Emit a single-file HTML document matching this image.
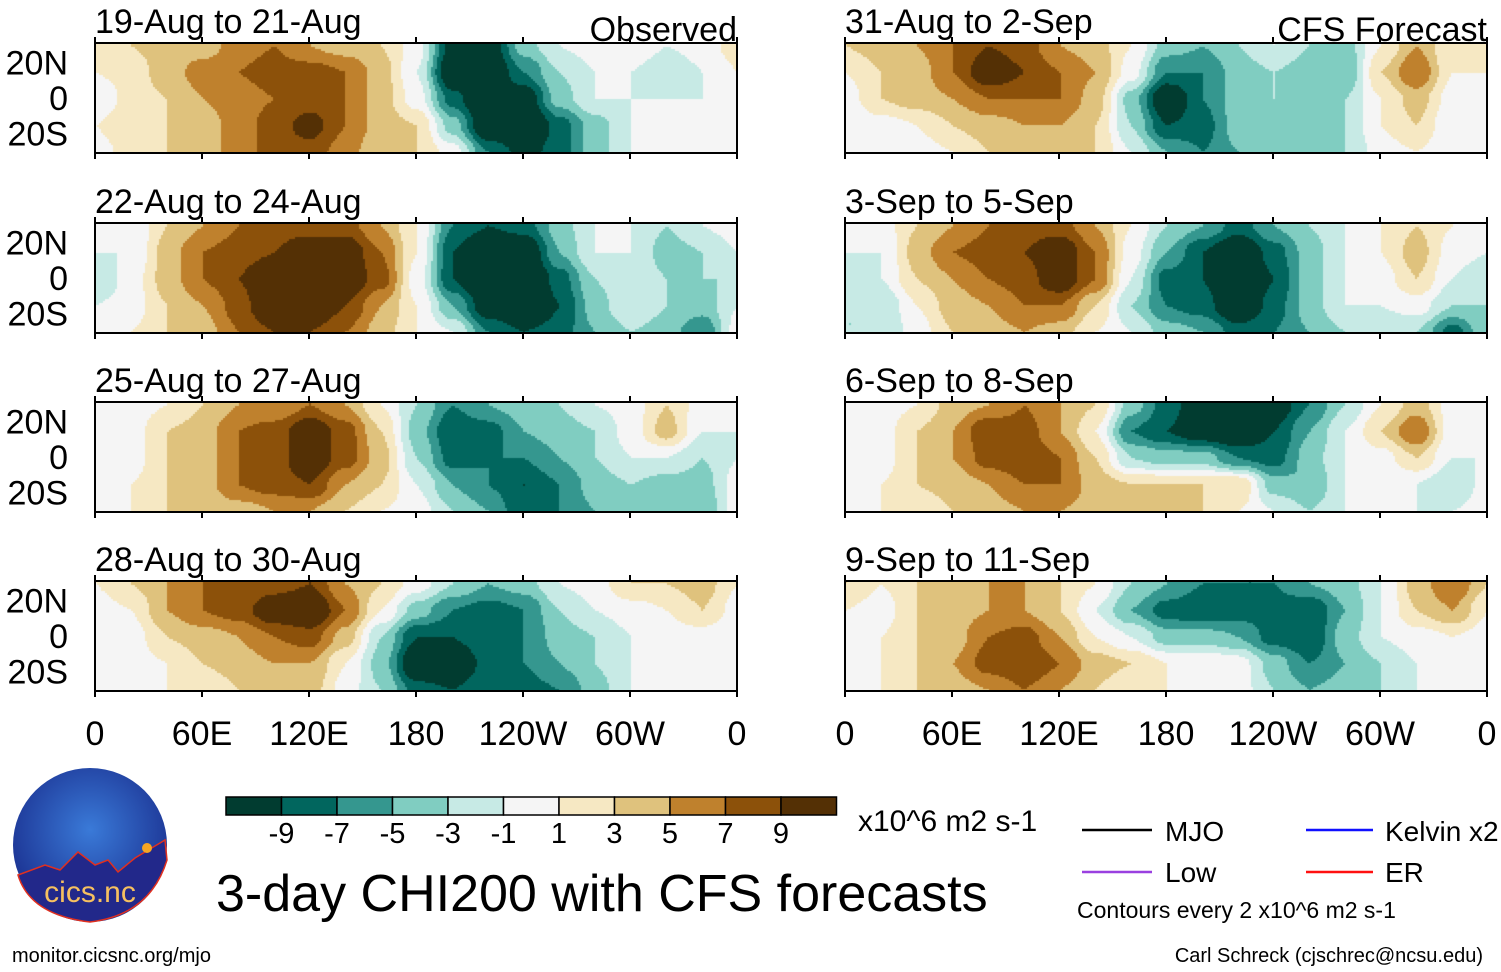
<!DOCTYPE html>
<html><head><meta charset="utf-8">
<style>
body{margin:0;background:#fff;width:1501px;height:972px;overflow:hidden;position:relative;font-family:"Liberation Sans",sans-serif;color:#000}
canvas{position:absolute}
</style></head><body>
<div id="root"></div>
<svg id="ov" width="1501" height="972" style="position:absolute;left:0;top:0"></svg>
<script>
const panelTitles=["19-Aug to 21-Aug","22-Aug to 24-Aug","25-Aug to 27-Aug","28-Aug to 30-Aug","31-Aug to 2-Sep","3-Sep to 5-Sep","6-Sep to 8-Sep","9-Sep to 11-Sep"];
const lonCols=[0,20,40,60,80,100,120,140,160,180,200,220,240,260,280,300,320,340];
const latRows=[30,15,0,-15,-30];
const p1=[[2,3,4,4,6,7,5,4,3,0,-10,-11,-4,-1,0,1,-1,0],[1,2,4,6,7,8,8,7,4,-1,-12,-12,-7,-3,-1,-1,-3,-1],[-1,2,3,5,6,7,8,7,4,0,-8,-13,-11,-4,-1,-1,-1,-1],[1,3,3,4,6,8,10,7,4,3,-4,-12,-13,-8,-4,-1,0,0],[0,2,3,4,6,8,8,6,3,3,0,-7,-10,-8,-4,-1,0,0]];
const p2=[[0,-1,3,5,7,8,8,8,5,1,-7,-9,-8,-4,-1,-1,-3,-1],[-1,-1,4,7,8,9,11,11,7,1,-9,-13,-12,-5,-1,-1,-4,-3],[-3,0,4,7,9,12,13,11,8,0,-9,-13,-13,-8,-3,-1,-3,-3],[-1,0,3,5,8,12,12,9,5,1,-5,-11,-13,-9,-4,-1,-3,-4],[0,1,3,4,7,9,9,7,4,1,-1,-7,-9,-8,-5,-3,-4,-7]];
const p3=[[0,0,1,3,5,5,7,5,1,-3,-7,-5,-4,-3,-1,0,3,0],[-1,0,3,4,7,8,11,8,3,-4,-9,-8,-5,-4,-3,0,4,-1],[-1,0,3,4,7,8,11,8,4,-3,-8,-7,-7,-5,-3,-1,-1,-3],[0,1,3,4,7,8,9,5,3,-1,-5,-7,-9,-7,-4,-3,-4,-4],[0,1,3,3,4,5,5,3,1,0,-3,-5,-9,-7,-5,-4,-5,-5]];
const p4=[[1,3,5,7,7,8,9,5,3,0,-3,-5,-4,-1,0,3,3,4],[0,1,5,7,8,11,12,7,1,-4,-7,-8,-7,-3,-1,0,1,3],[-1,0,3,4,5,7,8,4,-3,-9,-9,-7,-7,-4,-3,-1,0,0],[0,0,1,3,4,5,5,1,-4,-12,-12,-8,-7,-5,-3,-1,0,0],[0,0,1,1,3,4,4,0,-3,-8,-9,-7,-8,-7,-4,-1,0,0]];
const p5=[[3,4,5,7,9,8,5,4,1,-4,-5,-3,-1,-3,-4,1,5,1],[1,3,4,7,11,9,7,5,0,-7,-7,-4,-3,-4,-5,3,7,1],[0,3,4,5,7,7,7,4,-4,-12,-7,-4,-3,-3,-3,1,4,0],[-1,0,1,3,4,5,5,3,-3,-9,-8,-4,-5,-4,-3,1,3,-1],[-1,-1,0,1,3,4,4,3,-1,-5,-7,-5,-5,-4,-3,0,1,-1]];
const p6=[[0,0,3,5,7,8,8,5,1,-3,-5,-8,-5,-3,-1,1,3,1],[-1,-1,4,7,8,9,11,7,0,-5,-9,-12,-8,-4,-1,1,4,0],[-3,-1,3,5,7,8,11,7,-1,-8,-9,-13,-9,-4,-1,0,3,-1],[-3,-3,1,4,5,7,7,3,-3,-7,-8,-12,-8,-4,-1,-1,0,-3],[-3,-3,0,3,4,5,4,1,-1,-4,-5,-8,-7,-5,-3,-3,-3,-8]];
const p7=[[0,0,1,4,5,7,5,3,-4,-8,-11,-12,-11,-7,-3,1,4,0],[-1,0,3,5,9,8,5,1,-7,-9,-11,-12,-9,-5,-1,3,7,0],[-1,0,3,5,8,9,7,3,-3,-4,-4,-7,-8,-4,-1,0,3,-1],[0,1,3,4,5,7,7,4,3,3,3,3,-4,-5,-1,-1,-1,-3],[0,1,1,3,4,5,5,4,4,3,3,1,-1,-3,-1,-1,-1,-1]];
const p8=[[3,1,3,4,5,5,3,1,-3,-5,-7,-7,-7,-5,-4,-1,4,7],[1,0,3,4,5,5,3,-1,-5,-8,-9,-8,-8,-9,-5,-1,3,5],[0,1,3,4,7,8,5,1,-1,-4,-4,-5,-8,-9,-4,-1,0,1],[0,1,3,5,8,9,7,4,3,1,1,0,-4,-7,-5,-3,-1,0],[0,1,3,4,5,7,5,3,1,1,0,0,-3,-5,-4,-3,-1,0]];
const panelData=[p1,p2,p3,p4,p5,p6,p7,p8];
const colors=["#013c30","#01665e","#35978f","#80cdc1","#c7eae5","#f5f5f5","#f6e8c3","#dfc27d","#bf812d","#8c510a","#543005"];
const cbTicks=["-9","-7","-5","-3","-1","1","3","5","7","9"];
const xTicks=["0","60E","120E","180","120W","60W","0"];
const yTicks=["20N","0","20S"];

const root=document.getElementById('root');
const svg=document.getElementById('ov');
const NS="http://www.w3.org/2000/svg";
const colX=[95,845], rowY=[43,223,402,581], PW=642, PH=110;
const xS=(ox,lon)=>ox+lon/360*PW;
const yS=(oy,lat)=>oy+PH/2-lat/62*PH;
function txt(s,x,y,size,anchor,name){
  const t=document.createElementNS(NS,'text');
  t.setAttribute('x',x);t.setAttribute('y',y);t.setAttribute('font-size',size);
  t.setAttribute('text-anchor',anchor||'start');t.setAttribute('font-family','Liberation Sans, sans-serif');
  t.textContent=s;
  
  
  svg.appendChild(t);return t;
}
function line(x1,y1,x2,y2,c,w,name){
  const l=document.createElementNS(NS,'line');
  l.setAttribute('x1',x1);l.setAttribute('y1',y1);l.setAttribute('x2',x2);l.setAttribute('y2',y2);
  l.setAttribute('stroke',c);l.setAttribute('stroke-width',w);
  
  
  svg.appendChild(l);
}
function val(d,lon,lat){
  const n=lonCols.length;
  let fi=(lon/20)%n; const i0=Math.floor(fi), i1=(i0+1)%n, fx=fi-i0;
  let fj=(30-lat)/15; fj=Math.max(0,Math.min(latRows.length-1.0001,fj));
  const j0=Math.floor(fj), j1=j0+1, fy=fj-j0;
  const sx=fx*fx*(3-2*fx), sy=fy*fy*(3-2*fy);
  const a=d[j0][i0]*(1-sx)+d[j0][i1]*sx, b=d[j1][i0]*(1-sx)+d[j1][i1]*sx;
  return a*(1-sy)+b*sy;
}
function cidx(v){return Math.max(0,Math.min(10,Math.floor((v+11)/2)));}
panelData.forEach((d,k)=>{
  const ox=colX[Math.floor(k/4)], oy=rowY[k%4];
  const cv=document.createElement('canvas');
  cv.width=PW;cv.height=PH;cv.style.left=ox+'px';cv.style.top=oy+'px';
  
  
  root.appendChild(cv);
  const ctx=cv.getContext('2d');
  for(let px=0;px<PW;px+=2)for(let py=0;py<PH;py+=2){
    const lon=px/PW*360, lat=(PH/2-py)/PH*62;
    ctx.fillStyle=colors[cidx(val(d,lon,lat))];ctx.fillRect(px,py,2,2);
  }
  const r=document.createElementNS(NS,'rect');
  r.setAttribute('x',ox);r.setAttribute('y',oy);r.setAttribute('width',PW);r.setAttribute('height',PH);
  r.setAttribute('fill','none');r.setAttribute('stroke','#000');r.setAttribute('stroke-width',2);
  
  
  svg.appendChild(r);
  for(let lo=0;lo<=360;lo+=60){line(xS(ox,lo),oy,xS(ox,lo),oy-6,'#000',2,'x-tick');line(xS(ox,lo),oy+PH,xS(ox,lo),oy+PH+6,'#000',2,'x-tick');}
  txt(panelTitles[k],ox,oy-10,34,'start','panel-title');
  if(k%4===0) txt(k===0?'Observed':'CFS Forecast',ox+PW,oy-2,34,'end','panel-label');
  if(k<4){[20,0,-20].forEach((la,i)=>{txt(yTicks[i],68,yS(oy,la)+12,34,'end','y-tick-label');});}
  if(k%4===3){xTicks.forEach((s,i)=>txt(s,ox+i*PW/6,745,34,'middle','x-tick-label'));}
});
colors.forEach((c,i)=>{
  const r=document.createElementNS(NS,'rect');
  r.setAttribute('x',226+i*55.5);r.setAttribute('y',797);r.setAttribute('width',55.5);r.setAttribute('height',18);
  r.setAttribute('fill',c);r.setAttribute('stroke','#000');r.setAttribute('stroke-width',1.5);
  
  
  svg.appendChild(r);
});
cbTicks.forEach((s,i)=>txt(s,226+(i+1)*55.5,843,29,'middle','colorbar-tick'));
txt('x10^6 m2 s-1',858,831,30,'start','colorbar-units');
txt('3-day CHI200 with CFS forecasts',216,911,52,'start','chart-title');
line(1082,830,1152,830,'#000',2.5,'legend-mjo-line');txt('MJO',1165,841,28,'start','legend-mjo');
line(1306,830,1373,830,'#1010ff',2.5,'legend-kelvin-line');txt('Kelvin x2',1385,841,28,'start','legend-kelvin');
line(1082,872,1152,872,'#9a40e0',2.5,'legend-low-line');txt('Low',1165,882,28,'start','legend-low');
line(1306,872,1373,872,'#ff1010',2.5,'legend-er-line');txt('ER',1385,882,28,'start','legend-er');
txt('Contours every 2 x10^6 m2 s-1',1077,918,23,'start','contour-note');
txt('monitor.cicsnc.org/mjo',12,962,20,'start','footer-url');
txt('Carl Schreck (cjschrec@ncsu.edu)',1483,962,20,'end','footer-credit');
svg.insertAdjacentHTML('beforeend',`<g>
<defs><radialGradient id="lg" cx="50%" cy="40%" r="60%"><stop offset="0" stop-color="#3a7ad8"/><stop offset="1" stop-color="#1a2f8f"/></radialGradient></defs>
<circle cx="90" cy="845" r="77" fill="url(#lg)"/>
<path d="M18,875 L45,865 L60,870 L78,852 L95,865 L108,860 L118,872 L135,858 L165,840 L167,860 Q150,915 90,922 Q30,915 18,875Z" fill="#22288a" stroke="#e03020" stroke-width="1.5"/>
<circle cx="147" cy="848" r="5" fill="#f6a623"/>
<text x="90" y="902" font-size="30" text-anchor="middle" fill="#f6c060" font-family="Liberation Sans, sans-serif">cics.nc</text></g>`);
</script>
</body></html>
